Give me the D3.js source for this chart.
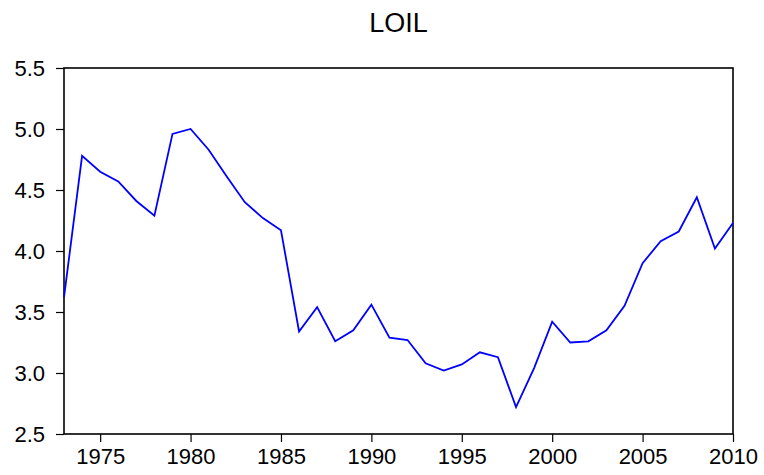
<!DOCTYPE html>
<html>
<head>
<meta charset="utf-8">
<script src="https://cdn.jsdelivr.net/npm/d3@7"></script>
<style>
  body { margin: 0; background: #fff; }
  text { font-family: "Liberation Sans", Arial, sans-serif; fill: #000; }
</style>
</head>
<body>
<div id="chart"></div>
<script>
// series LOIL, one value per year
var years = d3.range(1973, 2011);
var loil = [3.62, 4.78, 4.65, 4.57, 4.41, 4.29, 4.96, 5.00, 4.83, 4.61,
            4.40, 4.27, 4.17, 3.34, 3.54, 3.26, 3.35, 3.56, 3.29, 3.27,
            3.08, 3.02, 3.07, 3.17, 3.13, 2.72, 3.04, 3.42, 3.25, 3.26,
            3.35, 3.55, 3.90, 4.08, 4.16, 4.44, 4.02, 4.23];
var yTicks = [2.5, 3.0, 3.5, 4.0, 4.5, 5.0, 5.5];
var xTicks = [1975, 1980, 1985, 1990, 1995, 2000, 2005, 2010];
var title = "LOIL";

var margin = { top: 68, right: 31, bottom: 41, left: 64 };
var width = 764 - margin.left - margin.right;
var height = 475 - margin.top - margin.bottom;

var root = d3.select("#chart")
    .append("svg")
    .attr("width", 764)
    .attr("height", 475);

// title
root.append("text")
    .attr("x", margin.left + width / 2)
    .attr("y", 32)
    .style("text-anchor", "middle")
    .style("font-size", "27px")
    .text(title);

var svg = root.append("g")
    .attr("transform", "translate(" + margin.left + "," + margin.top + ")");

var x = d3.scaleLinear()
    .domain([1973, 2010])
    .range([0, width]);

var y = d3.scaleLinear()
    .domain([2.5, 5.5])
    .range([height, 0]);

// x axis
var gx = svg.append("g")
    .attr("transform", "translate(0," + height + ")")
    .call(d3.axisBottom(x).tickValues(xTicks).tickFormat(d3.format("d")).tickSize(8).tickSizeOuter(0));

// y axis
var gy = svg.append("g")
    .call(d3.axisLeft(y).tickValues(yTicks).tickFormat(d3.format(".1f")).tickSize(8).tickSizeOuter(0));

[gx, gy].forEach(function (g) {
    g.select(".domain").remove();
    g.selectAll("line").attr("stroke", "#000").attr("stroke-width", 1.2);
    g.selectAll("text").style("font-size", "22px").style("font-family", "Liberation Sans, Arial, sans-serif");
});
gx.selectAll("text").attr("dy", "0.9em").attr("y", 10);
gy.selectAll("text").attr("x", -19);

// frame
svg.append("rect")
    .attr("x", 0)
    .attr("y", 0)
    .attr("width", width)
    .attr("height", height)
    .attr("fill", "none")
    .attr("stroke", "#000")
    .attr("stroke-width", 1.6);

// line
var line = d3.line()
    .x(function (d, i) { return x(years[i]); })
    .y(function (d) { return y(d); });

svg.append("path")
    .datum(loil)
    .attr("fill", "none")
    .attr("stroke", "#0000ff")
    .attr("stroke-width", 1.8)
    .attr("d", line);
</script>
</body>
</html>
